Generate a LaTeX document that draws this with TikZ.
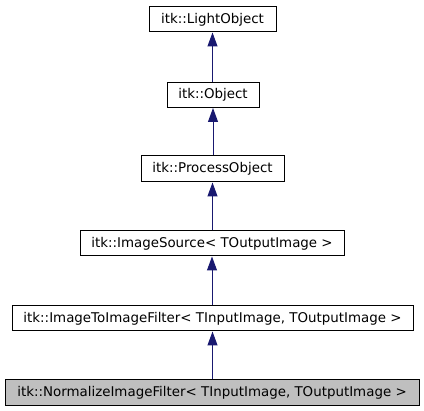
\documentclass[tikz,border=0pt]{standalone}
\usepackage{fontspec}
\setmainfont{DejaVu Sans}
\usetikzlibrary{arrows.meta}
\definecolor{edgeblue}{HTML}{191970}
\definecolor{leafgray}{HTML}{BFBFBF}
\begin{document}
\begin{tikzpicture}[x=1pt,y=-1pt,
  cls/.style={draw=black,line width=1pt,minimum height=25pt,inner sep=0pt,font=\fontsize{13.4}{15}\selectfont,fill=white},
  inh/.style={draw=edgeblue,line width=1pt,-{Triangle[width=10pt,length=14pt]}}]
\useasboundingbox (0,0) rectangle (424,411);
\node[cls,minimum width=127pt] (lo) at (212.5,19.5) {itk::LightObject};
\node[cls,minimum width=92pt] (ob) at (213,95) {itk::Object};
\node[cls,minimum width=143pt,minimum height=26pt] (po) at (212.5,169) {itk::ProcessObject};
\node[cls,minimum width=264pt] (is) at (212,243.5) {itk::ImageSource< TOutputImage >};
\node[cls,minimum width=401pt] (ii) at (212.5,318.5) {itk::ImageToImageFilter< TInputImage, TOutputImage >};
\node[cls,minimum width=414pt,minimum height=26pt,fill=leafgray] (nf) at (212,393) {itk::NormalizeImageFilter< TInputImage, TOutputImage >};
\draw[inh] (ob.north -| lo.south) -- (lo.south);
\draw[inh] (po.north -| ob.south) -- (ob.south);
\draw[inh] (is.north -| po.south) -- (po.south);
\draw[inh] (ii.north -| is.south) -- (is.south);
\draw[inh] (nf.north -| ii.south) -- (ii.south);
\end{tikzpicture}
\end{document}
